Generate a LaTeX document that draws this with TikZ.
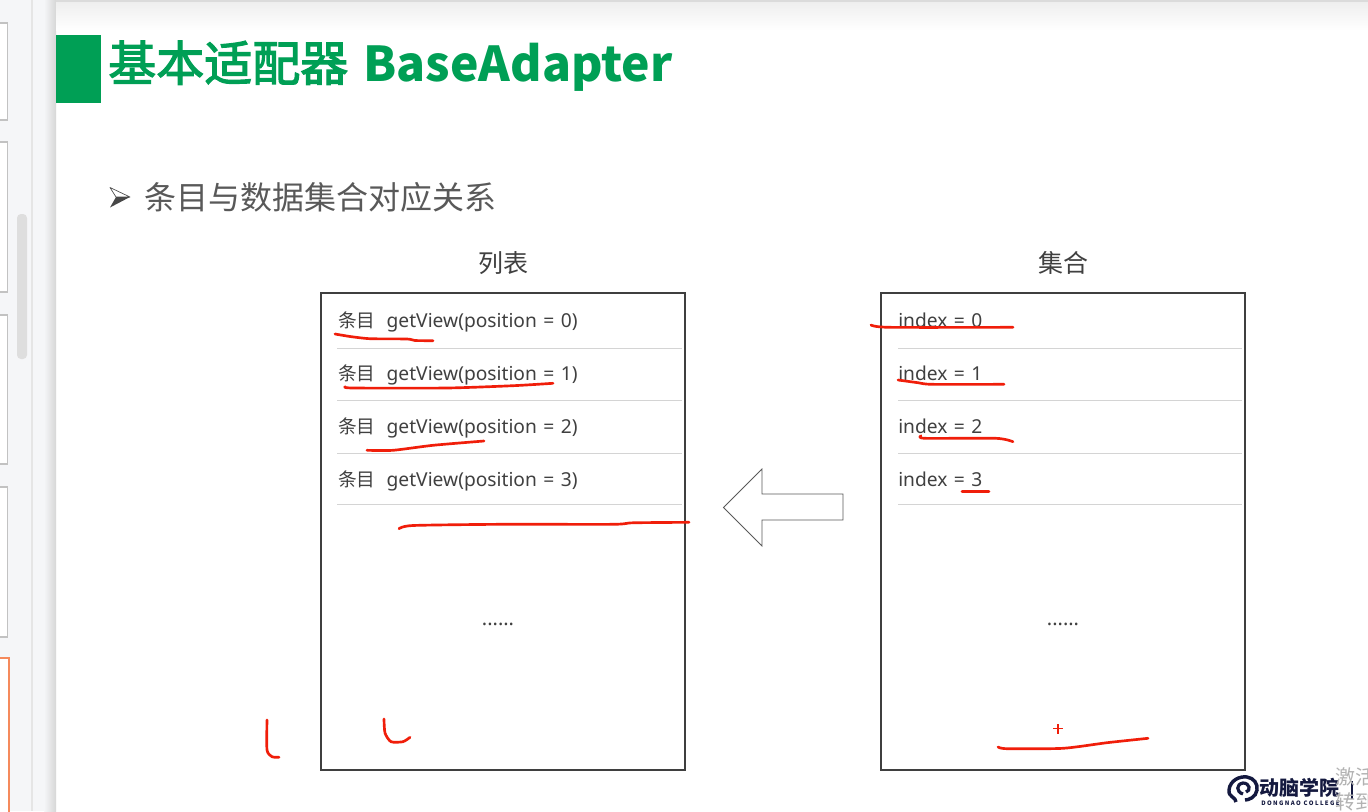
\documentclass[tikz,border=0pt]{standalone}
\usepackage{xcolor}
\usepackage{fontspec}
\setmainfont{Noto Sans}
\newfontfamily\cjk{Noto Sans CJK SC}
\newfontfamily\cjktitle[FakeBold=2.5]{Noto Sans CJK SC}
\newcommand{\rowfont}{\fontsize{14.4pt}{16pt}\selectfont\setlength{\spaceskip}{4.85pt}}
\usepackage{tikz}
\usetikzlibrary{arrows.meta,positioning}
\definecolor{adgreen}{HTML}{009F55}
\definecolor{adtext}{HTML}{595959}
\definecolor{addark}{HTML}{404040}
\definecolor{adframe}{HTML}{3F3F3F}
\definecolor{adrule}{HTML}{D4D4D4}
\definecolor{adred}{HTML}{F01E0A}
\definecolor{adnavy}{HTML}{14193F}
\definecolor{adside}{HTML}{F5F6F8}
\definecolor{adthumb}{HTML}{C2C2C2}
\definecolor{adorange}{HTML}{F58A5C}

\begin{document}
\begin{tikzpicture}[
  x=0.75pt,y=-0.75pt,
  panel/.style={draw=adframe,line width=1.1pt,fill=white,minimum width=273pt,minimum height=357.75pt,inner sep=0pt},
  heading/.style={text=addark,font=\fontsize{18.75pt}{20pt}\selectfont\cjk,inner sep=0pt},
  rowtext/.style={text=addark,font=\rowfont,anchor=base west,inner sep=0pt},
  dots/.style={text=addark,font=\fontsize{15pt}{16pt}\selectfont,anchor=base,inner sep=0pt},
  rowrule/.style={draw=adrule,line width=0.7pt},
  thumb/.style={draw=adthumb,fill=white,line width=0.8pt},
  ink/.style={draw=adred,line width=2pt,line cap=round,line join=round,smooth,tension=0.4}
]
\useasboundingbox (0,0) rectangle (1368,811);
\clip (0,0) rectangle (1368,811);
\fill[white] (0,0) rectangle (1368,811);

\fill[adside] (0,0) rectangle (45,811);
\shade[left color=adside,right color=black!16] (44,0) rectangle (56,811);
\draw[draw=black!10,line width=1pt] (32,0) -- (32,811);
\draw[thumb] (-3,23) rectangle (7.5,120);
\draw[thumb] (-3,142) rectangle (7.5,292);
\draw[thumb] (-3,315) rectangle (7.5,464);
\draw[thumb] (-3,487) rectangle (7.5,637);
\draw[draw=adorange,fill=white,line width=2pt] (-3,658) rectangle (9,815);
\fill[black!13,rounded corners=3pt] (17,214) rectangle (27,359);
\shade[top color=black!7,bottom color=white] (56,0) rectangle (1368,30);
\fill[black!14] (56,0) rectangle (1368,2);

\fill[adgreen] (56,35) rectangle (101,103);
\node[anchor=base west,text=adgreen,inner sep=0pt,font=\fontsize{36pt}{38pt}\selectfont] (title) at (108,81) {{\cjktitle 基本适配器}\hspace{11.3pt}{\cjk\bfseries BaseAdapter}};

\draw[draw=black!70,fill=white,line width=0.5pt,line join=round] (110,187.5) -- (130,197) -- (116,197) -- cycle;
\fill[black!72] (110,207.5) -- (130,197) -- (116,197) -- cycle;
\node[anchor=west,text=adtext,inner sep=0pt,font=\fontsize{24pt}{26pt}\selectfont\cjk] (subtitle) at (144,197) {条目与数据集合对应关系};

\node[panel] (listpanel) at (503,531.5) {};
\node[panel] (setpanel) at (1063,531.5) {};
\node[heading,above=13pt of listpanel] (listhead) {列表};
\node[heading,above=13pt of setpanel] (sethead) {集合};

\node[rowtext] (itemzero) at (338,327) {{\cjk\fontsize{14pt}{16pt}\selectfont 条目}\hspace{8.3pt}getView(position = 0)};
\node[rowtext] (itemone) at (338,380) {{\cjk\fontsize{14pt}{16pt}\selectfont 条目}\hspace{8.3pt}getView(position = 1)};
\node[rowtext] (itemtwo) at (338,433) {{\cjk\fontsize{14pt}{16pt}\selectfont 条目}\hspace{8.3pt}getView(position = 2)};
\node[rowtext] (itemthree) at (338,486) {{\cjk\fontsize{14pt}{16pt}\selectfont 条目}\hspace{8.3pt}getView(position = 3)};
\draw[rowrule] (337,348) -- (682,348);
\draw[rowrule] (337,400.5) -- (682,400.5);
\draw[rowrule] (337,453.5) -- (682,453.5);
\draw[rowrule] (337,504.5) -- (682,504.5);
\node[dots] (listdots) at (498,625) {......};

\node[rowtext] (indexzero) at (898,327) {index = 0};
\node[rowtext] (indexone) at (898,380) {index = 1};
\node[rowtext] (indextwo) at (898,433) {index = 2};
\node[rowtext] (indexthree) at (898,486) {index = 3};
\draw[rowrule] (898,348) -- (1242,348);
\draw[rowrule] (898,400.5) -- (1242,400.5);
\draw[rowrule] (898,453.5) -- (1242,453.5);
\draw[rowrule] (898,504.5) -- (1242,504.5);
\node[dots] (setdots) at (1063,625) {......};

\draw[draw=black!65,fill=white,line width=0.6pt] (843,494) -- (762,494) -- (762,469) -- (723.5,507.5) -- (762,546) -- (762,520) -- (843,520) -- cycle;

\draw[ink] plot coordinates {(335,334) (350,336.5) (370,338.7) (407,339) (415,340.5) (433,340.7)};
\draw[ink] plot coordinates {(345,386.7) (353,388) (447,388) (513,385.7) (553,383.3)};
\draw[ink] plot coordinates {(367,450.3) (393,450.3) (433,445.3) (484,441)};
\draw[ink] plot coordinates {(399,528.7) (413,525.5) (500,524.3) (613,524.3) (633,522.8) (689,522.3)};
\draw[ink] plot coordinates {(871,325) (889,327.3) (1013,327.3)};
\draw[ink] plot coordinates {(898,380) (918,382.7) (932,384.3) (1004,384.3)};
\draw[ink] plot coordinates {(921,435.7) (925,438.3) (996,438.3) (1013,441.7)};
\draw[ink] plot coordinates {(962,491.3) (989,491.3)};
\draw[ink] plot coordinates {(998,747) (1007,748.7) (1063,748.3) (1107,742.7) (1148,738.3)};
\draw[ink] plot coordinates {(267,720) (267,750) (272,756.7) (279,757.3)};
\draw[ink] plot coordinates {(384,719) (385,733) (391,741.7) (403,741.7) (410,737.3)};
\draw[draw=adred,line width=1pt] (1053,728.7) -- (1063,728.7) (1058,724) -- (1058,734);

\draw[draw=adnavy,line width=2.6pt] (1236,802) .. controls (1236,797) and (1228,797) .. (1229,790) .. controls (1230,780) and (1240,776) .. (1247,777) .. controls (1254,778) and (1258,784) .. (1257,790) .. controls (1256,797) and (1249,800) .. (1245,800);
\draw[draw=adnavy,line width=2.4pt] (1243,794) .. controls (1236,792) and (1236,784) .. (1243,783) .. controls (1250,783) and (1251,791) .. (1246,792);
\node[anchor=west,text=adnavy,inner sep=0pt,font=\fontsize{15pt}{16pt}\selectfont\cjk\bfseries] (logotext) at (1259,788) {动脑学院};
\node[anchor=west,text=adnavy,inner sep=0pt,font=\fontsize{4.5pt}{5pt}\selectfont\cjk\bfseries] (logosub) at (1261,803) {D O N G N A O\ \ C O L L E G E};
\fill[adnavy] (1351,781) rectangle (1353,799);
\node[anchor=west,text=black!30,inner sep=0pt,font=\fontsize{15pt}{16pt}\selectfont\cjk] (markone) at (1335,777) {激活};
\node[anchor=west,text=black!30,inner sep=0pt,font=\fontsize{15pt}{16pt}\selectfont\cjk] (marktwo) at (1335,802) {转到};
\end{tikzpicture}
\end{document}
